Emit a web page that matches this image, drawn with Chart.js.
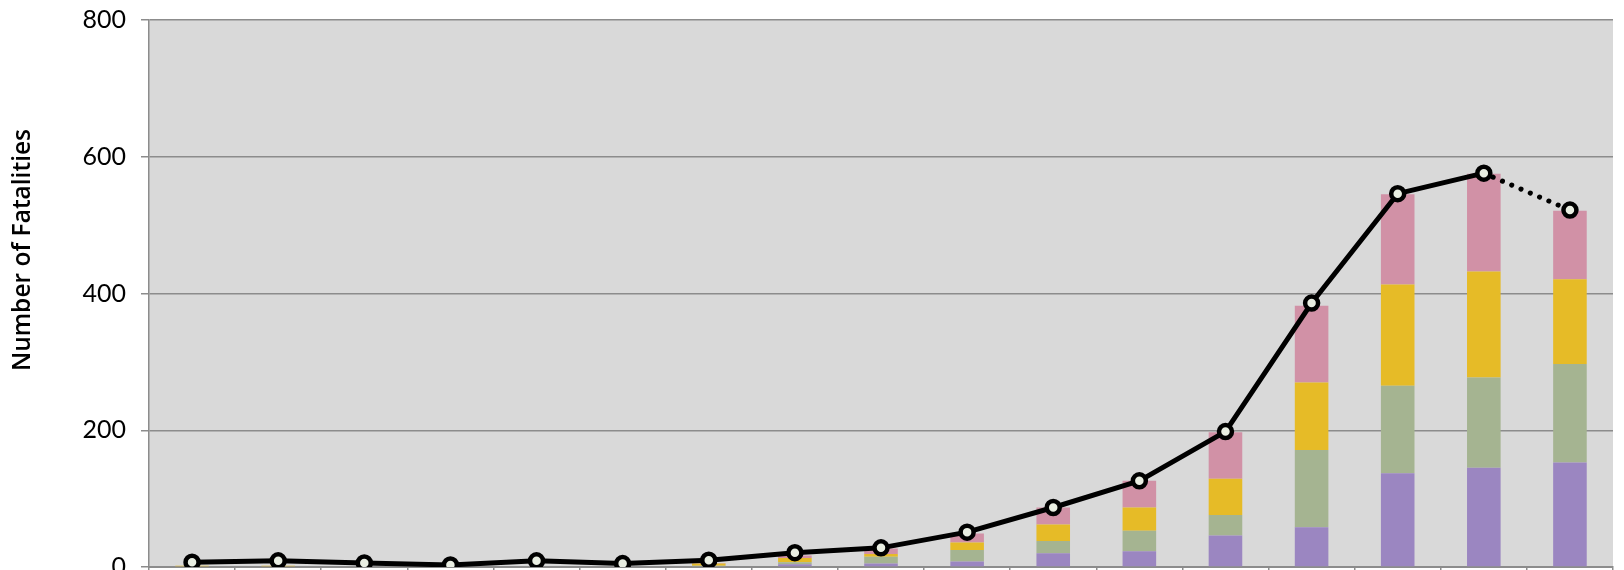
<!DOCTYPE html>
<html>
<head>
<meta charset="utf-8">
<script src="https://cdn.jsdelivr.net/npm/chart.js@4"></script>
<style>
html,body{margin:0;padding:0;background:#fff;overflow:hidden;width:1624px;height:570px;}
#wrap{position:absolute;left:0;top:0;width:1624px;height:600px;}
</style>
</head>
<body>
<div id="wrap"><canvas id="c" width="1624" height="600"></canvas></div>
<script>
const categories = ['1994','1995','1996','1997','1998','1999','2000','2001','2002','2003','2004','2005','2006','2007','2008','2009','2010'];
const seriesPurple = [0,0,0,0,0,0,1,4,5,8,20,23,46,58,137,145,153];
const seriesGreen  = [0,0,0,0,0,0,1,3,10,17,18,30,30,113,128,132,144];
const seriesYellow = [2,2,0,0,0,0,3,6,4,11,24,34,53,99,148,155,124];
const seriesPink   = [0,0,0,0,0,0,1,4,8,13,25,39,68,112,132,143,100];
const totalLine    = [7,9,6,3,9,5,10,21,28,51,87,126,198,386,546,576,522];
const yTicks = [0,200,400,600,800];
const yTitle = 'Number of Fatalities';

const plotBg = {
  id:'plotBg',
  beforeDraw(chart){
    const {ctx, chartArea:a} = chart;
    ctx.save(); ctx.fillStyle = '#d9d9d9';
    ctx.fillRect(a.left, a.top, a.right-a.left, a.bottom-a.top);
    ctx.restore();
  }
};

// y-axis title, placed where the original figure had it
const yTitlePlugin = {
  id:'yTitlePlugin',
  afterDraw(chart){
    const ctx = chart.ctx;
    ctx.save();
    ctx.translate(23, 250);
    ctx.rotate(-Math.PI/2);
    ctx.font = '600 24.5px "Open Sans"';
    ctx.fillStyle = '#000';
    ctx.textAlign = 'center';
    ctx.textBaseline = 'middle';
    ctx.fillText(yTitle, 0, 0);
    ctx.restore();
  }
};

const barDs = (label, data, color) => ({
  type:'bar', label, data, backgroundColor: color, borderWidth:0,
  stack:'s', order:1, barPercentage:0.39, categoryPercentage:1.0
});

new Chart(document.getElementById('c'), {
  data:{
    labels: categories,
    datasets:[
      {
        type:'line', label:'Total', data: totalLine, order:0,
        borderColor:'#000', borderWidth:5, borderCapStyle:'round', borderJoinStyle:'round',
        pointRadius:6.5, pointBorderWidth:4.5, pointBackgroundColor:'#e9eee2', pointBorderColor:'#000',
        tension:0,
        segment:{
          borderDash: ctx => ctx.p1DataIndex === totalLine.length-1 ? [0.1, 10] : undefined
        }
      },
      barDs('A', seriesPurple, '#9b86c1'),
      barDs('B', seriesGreen, '#a5b491'),
      barDs('C', seriesYellow, '#e6bb27'),
      barDs('D', seriesPink, '#d191a6')
    ]
  },
  options:{
    responsive:false, animation:false,
    layout:{padding:{top:20, right:4, bottom:27, left:0}},
    plugins:{legend:{display:false}, tooltip:{enabled:false}},
    scales:{
      x:{
        stacked:true, offset:true,
        ticks:{display:false},
        grid:{display:true, offset:true, drawOnChartArea:false, color:'#8c8c8c', lineWidth:1.5, tickLength:6},
        border:{display:true, color:'#8c8c8c', width:2}
      },
      y:{
        stacked:true, min:0, max:800,
        afterBuildTicks(s){ s.ticks = yTicks.map(v=>({value:v})); },
        afterFit(s){ s.width = 149; s.paddingTop = 0; s.paddingBottom = 0; },
        ticks:{color:'#000', padding:15, font:{family:'Lato', size:25}},
        grid:{color:'#8c8c8c', lineWidth:1.5, tickLength:8},
        border:{display:true, color:'#8c8c8c', width:1.5},
        title:{display:false}
      }
    }
  },
  plugins:[plotBg, yTitlePlugin]
});
</script>
</body>
</html>
